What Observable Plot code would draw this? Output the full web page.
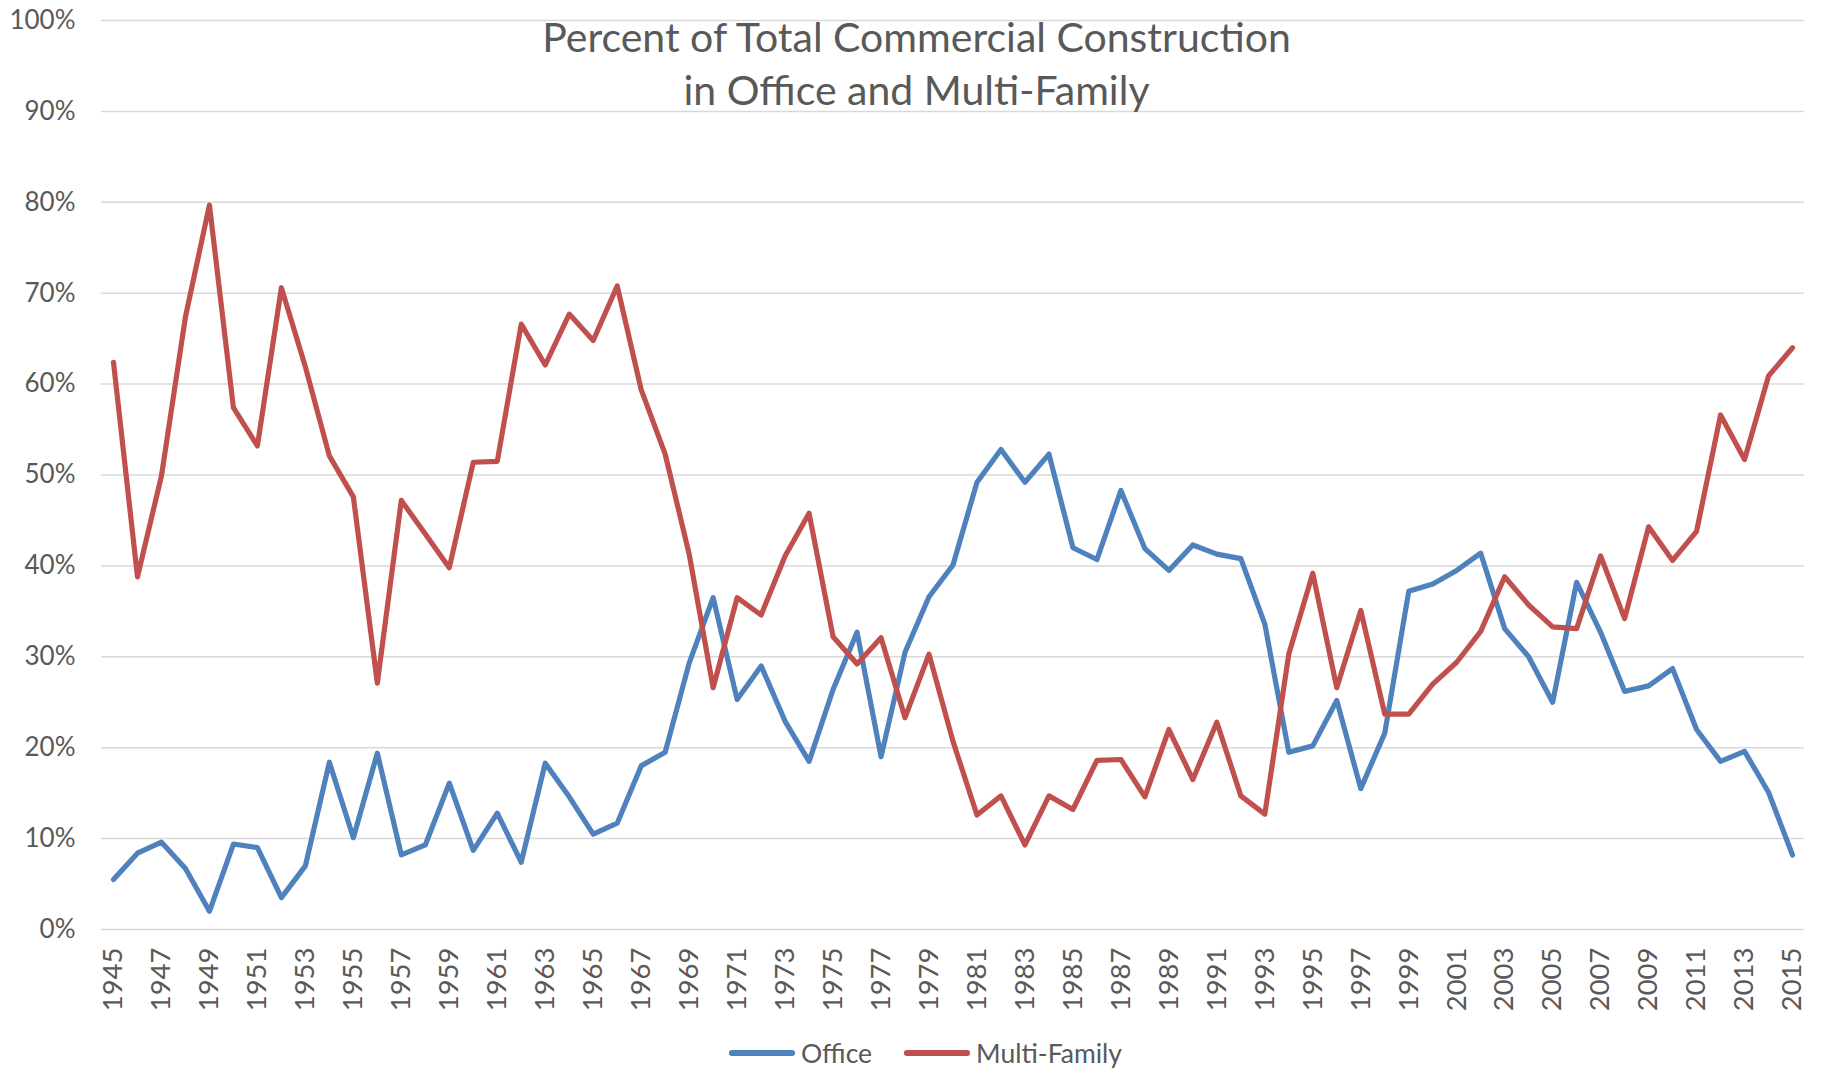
<!DOCTYPE html>
<html>
<head>
<meta charset="utf-8">
<script src="https://cdn.jsdelivr.net/npm/d3@7"></script>
<script src="https://cdn.jsdelivr.net/npm/@observablehq/plot@0.6"></script>
<style>
  body { margin: 0; background: #fff; font-family: Lato, "Open Sans", sans-serif; color: #595959; }
  #wrap { position: relative; width: 1833px; }
  #title { position: absolute; left: 0; top: 10px; width: 1833px; text-align: center;
           font-size: 41px; line-height: 53px; font-weight: 400; color: #595959; pointer-events: none; }
  #legend { display: flex; justify-content: center; align-items: center; margin-top: 18px; height: 30px;
            font-size: 26.5px; color: #595959; padding-left: 18px; }
  .item { display: flex; align-items: center; margin: 0 16px; }
  .sw { display: inline-block; width: 66px; height: 5.5px; border-radius: 2.75px; margin-right: 6px; }
  #chart svg g[aria-label="x-axis tick label"] text { font-size: 27.5px; }
</style>
</head>
<body>
<div id="wrap">
  <div id="chart"></div>
  <div id="title">Percent of Total Commercial Construction<br>in Office and Multi-Family</div>
  <div id="legend"></div>
</div>
<script>
const years = [1945,1946,1947,1948,1949,1950,1951,1952,1953,1954,1955,1956,1957,1958,1959,1960,
  1961,1962,1963,1964,1965,1966,1967,1968,1969,1970,1971,1972,1973,1974,1975,1976,1977,1978,1979,1980,
  1981,1982,1983,1984,1985,1986,1987,1988,1989,1990,1991,1992,1993,1994,1995,1996,1997,1998,1999,2000,
  2001,2002,2003,2004,2005,2006,2007,2008,2009,2010,2011,2012,2013,2014,2015];

const office = [5.5,8.4,9.6,6.7,2.0,9.4,9.0,3.5,7.0,18.4,10.1,19.4,8.2,9.3,16.1,8.7,
  12.8,7.4,18.3,14.6,10.5,11.7,18.0,19.5,29.3,36.5,25.3,29.0,22.9,18.5,26.4,32.7,19.0,30.5,36.6,40.1,
  49.2,52.8,49.2,52.3,42.0,40.7,48.3,41.9,39.5,42.3,41.3,40.8,33.6,19.5,20.2,25.2,15.5,21.6,37.2,38.0,
  39.5,41.4,33.1,30.0,25.0,38.2,32.7,26.2,26.8,28.7,22.0,18.5,19.6,15.1,8.2];

const multiFamily = [62.4,38.8,49.9,67.4,79.7,57.4,53.2,70.6,61.9,52.1,47.6,27.1,47.2,43.5,39.8,51.4,
  51.5,66.6,62.1,67.7,64.8,70.8,59.4,52.3,41.3,26.6,36.5,34.6,41.1,45.8,32.2,29.2,32.1,23.3,30.3,20.7,
  12.6,14.7,9.3,14.7,13.2,18.6,18.7,14.6,22.0,16.5,22.8,14.7,12.7,30.3,39.2,26.6,35.1,23.7,23.7,27.0,
  29.4,32.8,38.8,35.7,33.3,33.1,41.1,34.2,44.3,40.6,43.8,56.6,51.7,60.9,64.0];

const seriesNames = ["Office", "Multi-Family"];
const seriesColors = ["#4f81bd", "#c0504d"];

const xTicks = [1945,1947,1949,1951,1953,1955,1957,1959,1961,1963,1965,1967,1969,1971,1973,1975,1977,
  1979,1981,1983,1985,1987,1989,1991,1993,1995,1997,1999,2001,2003,2005,2007,2009,2011,2013,2015];
const yTicks = [0,10,20,30,40,50,60,70,80,90,100];

const officeData = years.map((y, i) => ({year: y, value: office[i]}));
const mfData = years.map((y, i) => ({year: y, value: multiFamily[i]}));

const chart = Plot.plot({
  width: 1833,
  height: 1020,
  marginLeft: 101,
  marginRight: 29,
  marginTop: 20,
  marginBottom: 91,
  style: { fontFamily: "Lato, 'Open Sans', sans-serif", fontSize: "26px", color: "#595959", background: "#fff" },
  x: { type: "linear", domain: [1944.5, 2015.5] },
  y: { domain: [0, 100] },
  marks: [
    Plot.ruleY(yTicks, { stroke: "#d9d9d9", strokeWidth: 1.5 }),
    Plot.axisY({ ticks: yTicks, tickFormat: d => d + "%", tickSize: 0, tickPadding: 26, label: null }),
    Plot.axisX({ ticks: xTicks, tickFormat: d => String(d), tickSize: 0, tickPadding: 18, tickRotate: -90, label: null }),
    Plot.lineY(officeData, { x: "year", y: "value", stroke: seriesColors[0], strokeWidth: 5.2, strokeLinejoin: "round", strokeLinecap: "round" }),
    Plot.lineY(mfData, { x: "year", y: "value", stroke: seriesColors[1], strokeWidth: 5.2, strokeLinejoin: "round", strokeLinecap: "round" })
  ]
});
document.getElementById("chart").appendChild(chart);

const legend = document.getElementById("legend");
seriesNames.forEach((name, i) => {
  const item = document.createElement("div");
  item.className = "item";
  const sw = document.createElement("span");
  sw.className = "sw";
  sw.style.background = seriesColors[i];
  const label = document.createElement("span");
  label.textContent = name;
  item.appendChild(sw);
  item.appendChild(label);
  legend.appendChild(item);
});
</script>
</body>
</html>
